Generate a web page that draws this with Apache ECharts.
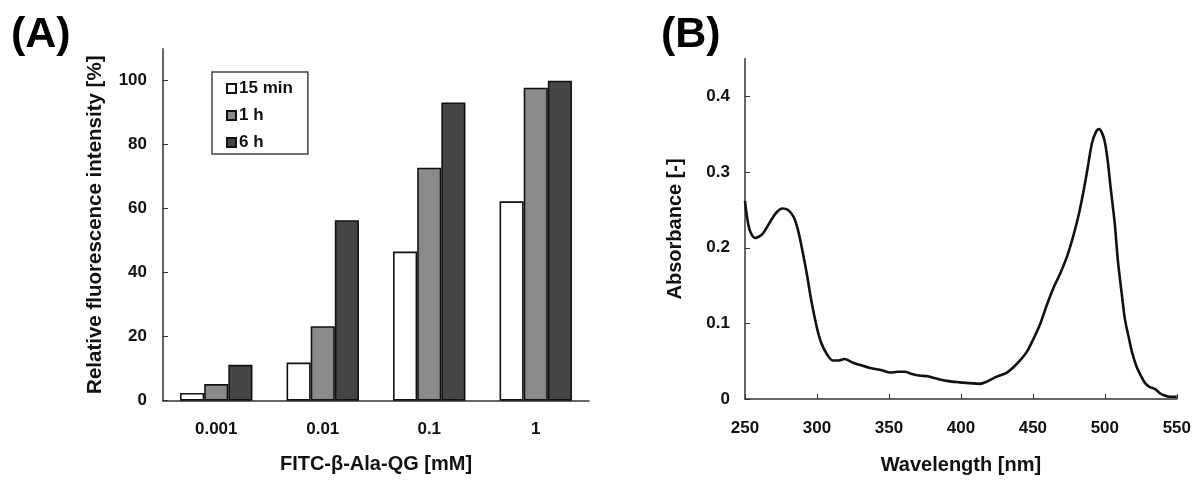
<!DOCTYPE html>
<html>
<head>
<meta charset="utf-8">
<script src="https://cdn.jsdelivr.net/npm/echarts@6/dist/echarts.min.js"></script>
<style>
  html, body { margin: 0; padding: 0; background: #fff; }
  #chart { width: 1194px; height: 480px; }
</style>
</head>
<body>
<div id="chart"></div>
<script>
// panel A: relative fluorescence intensity
const concentrations = ['0.001', '0.01', '0.1', '1']
const min15 = [2.4, 11.9, 46.6, 62.3]
const hour1 = [5.2, 23.3, 72.8, 97.8]
const hour6 = [11.2, 56.4, 93.2, 100]
const yTicksA = [0, 20, 40, 60, 80, 100]

// panel B: absorbance spectrum
const wavelength = [250, 253, 257, 262, 268, 272, 276, 280, 284, 287, 290, 293, 296, 300, 303, 307, 311, 315, 319, 325,
  330, 337, 345, 351, 356, 361, 366, 371, 377, 383, 390, 399, 406, 413, 418, 423, 427, 432, 437, 442,
  446, 450, 455, 460, 465, 469, 474, 478, 482, 485, 488, 491, 494, 496, 498, 500, 502, 504, 507, 509,
  512, 514, 517, 519, 522, 525, 528, 531, 535, 538, 541, 545, 550]
const absorbance = [0.262, 0.225, 0.213, 0.218, 0.236, 0.247, 0.252, 0.250, 0.240, 0.222, 0.195, 0.165, 0.131, 0.094, 0.074, 0.059, 0.051, 0.051, 0.053, 0.048,
  0.045, 0.041, 0.038, 0.035, 0.036, 0.036, 0.033, 0.031, 0.030, 0.027, 0.024, 0.022, 0.021, 0.020, 0.023, 0.028, 0.031, 0.035, 0.043, 0.053,
  0.063, 0.078, 0.099, 0.126, 0.150, 0.166, 0.190, 0.215, 0.245, 0.273, 0.305, 0.338, 0.354, 0.357, 0.352, 0.340, 0.315, 0.280, 0.230, 0.184,
  0.135, 0.105, 0.078, 0.061, 0.043, 0.031, 0.021, 0.016, 0.013, 0.008, 0.005, 0.003, 0.003]
const yTicksB = [0, 0.1, 0.2, 0.3, 0.4]

const FONT = 'Liberation Sans, Arial, sans-serif'
const axisColor = '#333'
const barBorder = '#111'

const labelStyle = {
  fontFamily: FONT,
  fontWeight: 'bold',
  fontSize: 17,
  color: '#111',
}
const nameStyle = {
  fontFamily: FONT,
  fontWeight: 'bold',
  fontSize: 20,
  color: '#111',
}
const panelStyle = { fontFamily: FONT, fontWeight: 'bold', fontSize: 43, color: '#000' }

function barSeries(name, values, color) {
  return {
    name,
    type: 'bar',
    xAxisIndex: 0,
    yAxisIndex: 0,
    barGap: '0%',
    barCategoryGap: '32%',
    itemStyle: {
      color,
      borderColor: barBorder,
      borderWidth: 1.6,
    },
    data: values,
  }
}

const chart = echarts.init(document.getElementById('chart'))

const option = {
  animation: false,
  backgroundColor: '#fff',
  title: [
    { text: '(A)', left: 6, top: 9, textStyle: panelStyle },
    { text: '(B)', left: 656, top: 9, textStyle: panelStyle },
  ],
  legend: {
    orient: 'vertical',
    left: 212,
    top: 72,
    padding: [8, 15, 3, 14],
    itemGap: 10,
    itemWidth: 9,
    itemHeight: 9,
    icon: 'rect',
    borderColor: '#444',
    borderWidth: 1.5,
    textStyle: { ...labelStyle, padding: [0, 0, 0, -2] },
    data: ['15 min', '1 h', '6 h'],
  },
  grid: [
    { left: 163, top: 48.7, width: 426, bottom: 79.3 },
    { left: 745, top: 58.8, width: 432, bottom: 81 },
  ],
  xAxis: [
    {
      gridIndex: 0,
      type: 'category',
      data: concentrations,
      name: 'FITC-β-Ala-QG [mM]',
      nameLocation: 'middle',
      nameGap: 54,
      nameTextStyle: nameStyle,
      axisLine: { lineStyle: { color: axisColor, width: 1.5 } },
      axisTick: { inside: true, length: 5, lineStyle: { color: axisColor } },
      axisLabel: { ...labelStyle, margin: 20 },
      splitLine: { show: false },
    },
    {
      gridIndex: 1,
      type: 'value',
      min: 250,
      max: 550,
      interval: 50,
      name: 'Wavelength [nm]',
      nameLocation: 'middle',
      nameGap: 56,
      nameTextStyle: nameStyle,
      axisLine: { lineStyle: { color: axisColor, width: 1.5 } },
      axisTick: { inside: true, length: 5, lineStyle: { color: axisColor } },
      axisLabel: { ...labelStyle, margin: 21 },
      splitLine: { show: false },
    },
  ],
  yAxis: [
    {
      gridIndex: 0,
      type: 'value',
      min: 0,
      max: 110,
      name: 'Relative fluorescence intensity [%]',
      nameLocation: 'middle',
      nameGap: 57,
      nameTextStyle: { ...nameStyle, fontSize: 20.5 },
      axisLine: { show: true, lineStyle: { color: axisColor, width: 1.5 } },
      axisTick: { show: true, inside: true, length: 5, customValues: yTicksA, lineStyle: { color: axisColor } },
      axisLabel: { ...labelStyle, margin: 16, customValues: yTicksA },
      splitLine: { show: false },
    },
    {
      gridIndex: 1,
      type: 'value',
      min: 0,
      max: 0.45,
      name: 'Absorbance [-]',
      nameLocation: 'middle',
      nameGap: 60,
      nameTextStyle: nameStyle,
      axisLine: { show: true, lineStyle: { color: axisColor, width: 1.5 } },
      axisTick: { show: true, inside: true, length: 5, customValues: yTicksB, lineStyle: { color: axisColor } },
      axisLabel: { ...labelStyle, margin: 15, customValues: yTicksB },
      splitLine: { show: false },
    },
  ],
  series: [
    barSeries('15 min', min15, '#ffffff'),
    barSeries('1 h', hour1, '#8a8a8a'),
    barSeries('6 h', hour6, '#454545'),
    {
      name: 'absorbance',
      type: 'line',
      xAxisIndex: 1,
      yAxisIndex: 1,
      showSymbol: false,
      smooth: 0.3,
      lineStyle: { color: '#111', width: 2.6 },
      data: wavelength.map((w, i) => [w, absorbance[i]]),
    },
  ],
}

chart.setOption(option)
</script>
</body>
</html>
